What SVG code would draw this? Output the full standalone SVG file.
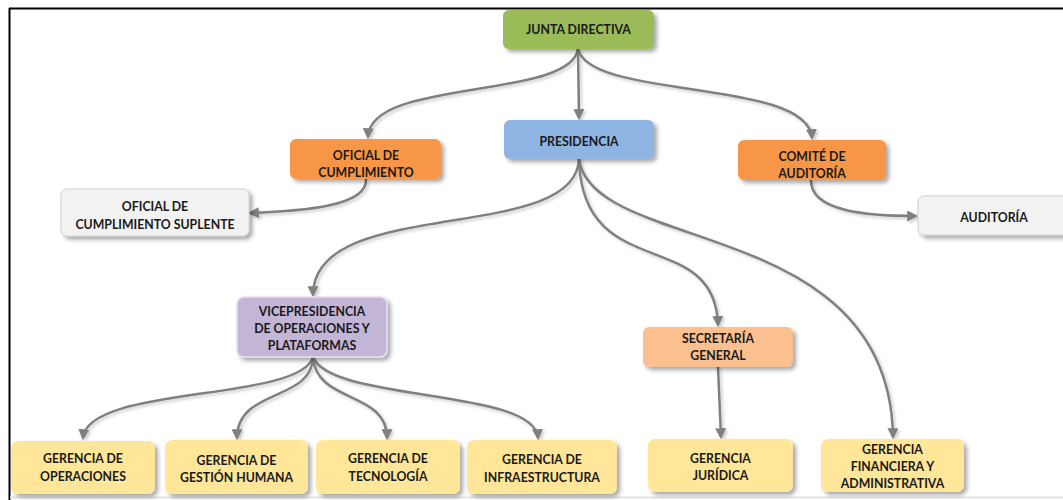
<svg xmlns="http://www.w3.org/2000/svg" width="1063" height="500" viewBox="0 0 1063 500">
  <defs>
    <filter id="sh" x="-10%" y="-20%" width="130%" height="160%">
      <feDropShadow dx="3" dy="3" stdDeviation="2" flood-color="#000" flood-opacity="0.35"/>
    </filter>
    <filter id="lsh" x="-10%" y="-10%" width="120%" height="120%">
      <feDropShadow dx="2" dy="2" stdDeviation="1.5" flood-color="#000" flood-opacity="0.2"/>
    </filter>
    <marker id="arr" viewBox="0 0 10 10" refX="8" refY="5" markerWidth="4.4" markerHeight="4.4" orient="auto" markerUnits="strokeWidth">
      <path d="M0,0 L10,5 L0,10 Z" fill="#808080"/>
    </marker>
    <style>
      .box { filter: url(#sh); }
      .t { font-family: "Lato", "Liberation Sans", sans-serif; font-weight: bold; font-size: 12.3px; fill: #1a1a1a; text-anchor: middle; }
      .c { fill: none; stroke: #808080; stroke-width: 2.5; marker-end: url(#arr); }
      .green { fill: #9BBB59; }
      .blue { fill: #8DB4E2; }
      .orange { fill: #F79646; }
      .lorange { fill: #FAC090; }
      .purple { fill: #C3B5D6; stroke: #E6E0EE; stroke-width: 1.5; }
      .yellow { fill: #FFE699; }
      .gray { fill: #F2F2F2; stroke: #D0D0D0; stroke-width: 1; }
    </style>
  </defs>

  <rect x="0" y="0" width="1063" height="500" fill="#FFFFFF"/>
  <!-- frame -->
  <line x1="9" y1="8.5" x2="1063" y2="8.5" stroke="#000" stroke-width="2"/>
  <line x1="9.5" y1="8" x2="9.5" y2="500" stroke="#000" stroke-width="2"/>
  <line x1="10" y1="497.5" x2="1063" y2="497.5" stroke="#E4E4E4" stroke-width="2"/>

  <g id="connectors" filter="url(#lsh)">
    <path class="c" d="M578,49 L579,118"/>
    <path class="c" d="M578,49 C570,100 370,78 368,137"/>
    <path class="c" d="M578,49 C590,100 808,78 812,138"/>
    <path class="c" d="M366,179 C368,207 300,211 250,213"/>
    <path class="c" d="M811,180 C810,212 870,216 916,216"/>
    <path class="c" d="M579,159 C576,245 313,195 313,295"/>
    <path class="c" d="M579,159 C582,285 715,225 718,325"/>
    <path class="c" d="M579,159 C592,255 890,215 893,437"/>
    <path class="c" d="M718,367 L721,437"/>
    <path class="c" d="M313,357 C300,402 88,385 83,438"/>
    <path class="c" d="M313,357 C312,402 237,388 237,438"/>
    <path class="c" d="M313,357 C316,404 387,390 387,438"/>
    <path class="c" d="M313,357 C330,402 535,388 538,438"/>
  </g>

  <g id="junta">
    <rect class="box green" x="503" y="10" width="151" height="39" rx="6"/>
    <text class="t" x="578.5" y="34">JUNTA DIRECTIVA</text>
  </g>
  <g id="presidencia">
    <rect class="box blue" x="504" y="120" width="150" height="39" rx="6"/>
    <text class="t" x="579" y="146">PRESIDENCIA</text>
  </g>
  <g id="oficial">
    <rect class="box orange" x="290" y="139" width="151" height="40" rx="6"/>
    <text class="t" x="366" y="160">OFICIAL DE</text>
    <text class="t" x="366" y="177">CUMPLIMIENTO</text>
  </g>
  <g id="suplente">
    <rect class="box gray" x="61" y="189" width="188" height="47" rx="6"/>
    <text class="t" x="155" y="211">OFICIAL DE</text>
    <text class="t" x="155" y="229">CUMPLIMIENTO SUPLENTE</text>
  </g>
  <g id="comite">
    <rect class="box orange" x="738" y="140" width="148" height="40" rx="6"/>
    <text class="t" x="812" y="161">COMITÉ DE</text>
    <text class="t" x="812" y="178">AUDITORÍA</text>
  </g>
  <g id="auditoria">
    <rect class="box gray" x="918" y="196" width="155" height="39" rx="6"/>
    <text class="t" x="994" y="222">AUDITORÍA</text>
  </g>
  <g id="vicepresidencia">
    <rect class="box purple" x="237" y="297" width="150" height="60" rx="7"/>
    <text class="t" x="312" y="316">VICEPRESIDENCIA</text>
    <text class="t" x="312" y="333">DE OPERACIONES Y</text>
    <text class="t" x="312" y="350">PLATAFORMAS</text>
  </g>
  <g id="secretaria">
    <rect class="box lorange" x="643" y="327" width="150" height="40" rx="6"/>
    <text class="t" x="718" y="343">SECRETARÍA</text>
    <text class="t" x="718" y="360">GENERAL</text>
  </g>
  <g id="g-operaciones">
    <rect class="box yellow" x="11" y="441" width="144" height="53" rx="7"/>
    <text class="t" x="83" y="463">GERENCIA DE</text>
    <text class="t" x="83" y="481">OPERACIONES</text>
  </g>
  <g id="g-gestion">
    <rect class="box yellow" x="165" y="440" width="143" height="54" rx="7"/>
    <text class="t" x="236.5" y="465">GERENCIA DE</text>
    <text class="t" x="236.5" y="482">GESTIÓN HUMANA</text>
  </g>
  <g id="g-tecnologia">
    <rect class="box yellow" x="316" y="440" width="144" height="54" rx="7"/>
    <text class="t" x="388" y="463">GERENCIA DE</text>
    <text class="t" x="388" y="481">TECNOLOGÍA</text>
  </g>
  <g id="g-infra">
    <rect class="box yellow" x="467" y="440" width="150" height="54" rx="7"/>
    <text class="t" x="542" y="464">GERENCIA DE</text>
    <text class="t" x="542" y="482">INFRAESTRUCTURA</text>
  </g>
  <g id="g-juridica">
    <rect class="box yellow" x="648" y="439" width="145" height="53" rx="7"/>
    <text class="t" x="720.5" y="463">GERENCIA</text>
    <text class="t" x="720.5" y="480">JURÍDICA</text>
  </g>
  <g id="g-financiera">
    <rect class="box yellow" x="821" y="439" width="143" height="53" rx="7"/>
    <text class="t" x="892.5" y="454">GERENCIA</text>
    <text class="t" x="892.5" y="471">FINANCIERA Y</text>
    <text class="t" x="892.5" y="488">ADMINISTRATIVA</text>
  </g>
</svg>
